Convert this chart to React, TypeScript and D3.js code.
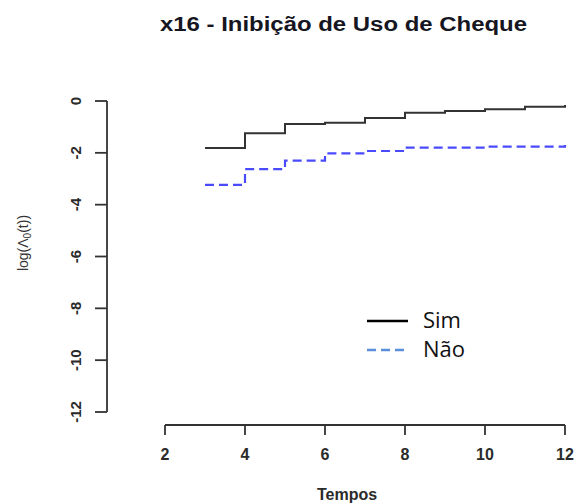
import React from "react";
import * as d3 from "d3";

// Step-function estimates of log cumulative baseline hazard, by group
const times = [3, 4, 5, 6, 7, 8, 9, 10, 11, 12];
const simValues = [-1.81, -1.24, -0.89, -0.84, -0.66, -0.45, -0.39, -0.32, -0.22, -0.15];
const naoValues = [-3.24, -2.63, -2.3, -2.02, -1.93, -1.8, -1.8, -1.76, -1.76, -1.7];
const xTicks = [2, 4, 6, 8, 10, 12];
const yTicks = [0, -2, -4, -6, -8, -10, -12];
const legendLabels = ["Sim", "Não"];

const W = 579;
const H = 503;
const font = "'Liberation Sans', Arial, sans-serif";

export default function App() {
  const x = d3.scaleLinear().domain([2, 12]).range([165, 565]);
  const y = d3.scaleLinear().domain([0, -12]).range([101, 412]);

  const step = d3
    .line<[number, number]>()
    .x((d) => x(d[0]))
    .y((d) => y(d[1]))
    .curve(d3.curveStepAfter);

  const simPath = step(times.map((t, i) => [t, simValues[i]]));
  const naoPath = step(times.map((t, i) => [t, naoValues[i]]));

  const axisX = 107;
  const axisY = 425;

  return (
    <svg
      width={W}
      height={H}
      style={{ position: "absolute", left: 0, top: 0, background: "#fff" }}
    >
      <text
        x={160}
        y={31}
        textLength={367}
        lengthAdjust="spacingAndGlyphs"
        fontFamily={font}
        fontWeight="bold"
        fontSize={20}
        fill="#161622"
      >
        x16 - Inibição de Uso de Cheque
      </text>

      {/* y axis */}
      <line x1={axisX} x2={axisX} y1={y(0)} y2={y(-12)} stroke="#333" strokeWidth={1.8} />
      {yTicks.map((v) => (
        <g key={v}>
          <line x1={axisX - 12} x2={axisX} y1={y(v)} y2={y(v)} stroke="#333" strokeWidth={1.8} />
          <text
            transform={`translate(${76},${y(v)}) rotate(-90)`}
            textAnchor="middle"
            dy="0.35em"
            fontFamily={font}
            fontWeight="bold"
            fontSize={15}
            fill="#2a2a2a"
          >
            {v}
          </text>
        </g>
      ))}
      <text
        transform={`translate(${23},${243}) rotate(-90)`}
        textAnchor="middle"
        dy="0.35em"
        fontFamily={font}
        fontSize={14}
        fill="#333"
      >
        log(Λ
        <tspan fontSize={10} dy="3">0</tspan>
        <tspan dy="-3">(t))</tspan>
      </text>

      {/* x axis */}
      <line x1={x(2)} x2={x(12)} y1={axisY} y2={axisY} stroke="#333" strokeWidth={1.8} />
      {xTicks.map((v) => (
        <g key={v}>
          <line x1={x(v)} x2={x(v)} y1={axisY} y2={axisY + 10} stroke="#333" strokeWidth={1.8} />
          <text
            x={x(v)}
            y={460}
            textAnchor="middle"
            fontFamily={font}
            fontWeight="bold"
            fontSize={16}
            fill="#2a2a2a"
          >
            {v}
          </text>
        </g>
      ))}
      <text
        x={347}
        y={500}
        textAnchor="middle"
        fontFamily={font}
        fontWeight="bold"
        fontSize={16}
        fill="#2a2a2a"
      >
        Tempos
      </text>

      {/* step curves */}
      <path d={simPath ?? ""} fill="none" stroke="#333" strokeWidth={2} />
      <path
        d={naoPath ?? ""}
        fill="none"
        stroke="#4a4aff"
        strokeWidth={2.2}
        strokeDasharray="9 5"
      />

      {/* legend */}
      <line x1={367} x2={408} y1={321} y2={321} stroke="#000" strokeWidth={2.5} />
      <line
        x1={367}
        x2={408}
        y1={350}
        y2={350}
        stroke="#5b8fdc"
        strokeWidth={2.5}
        strokeDasharray="9 5"
      />
      <text x={423} y={328} fontFamily="'Open Sans', sans-serif" fontSize={22} fill="#111">
        {legendLabels[0]}
      </text>
      <text x={423} y={357} fontFamily="'Open Sans', sans-serif" fontSize={22} fill="#111">
        {legendLabels[1]}
      </text>
    </svg>
  );
}
